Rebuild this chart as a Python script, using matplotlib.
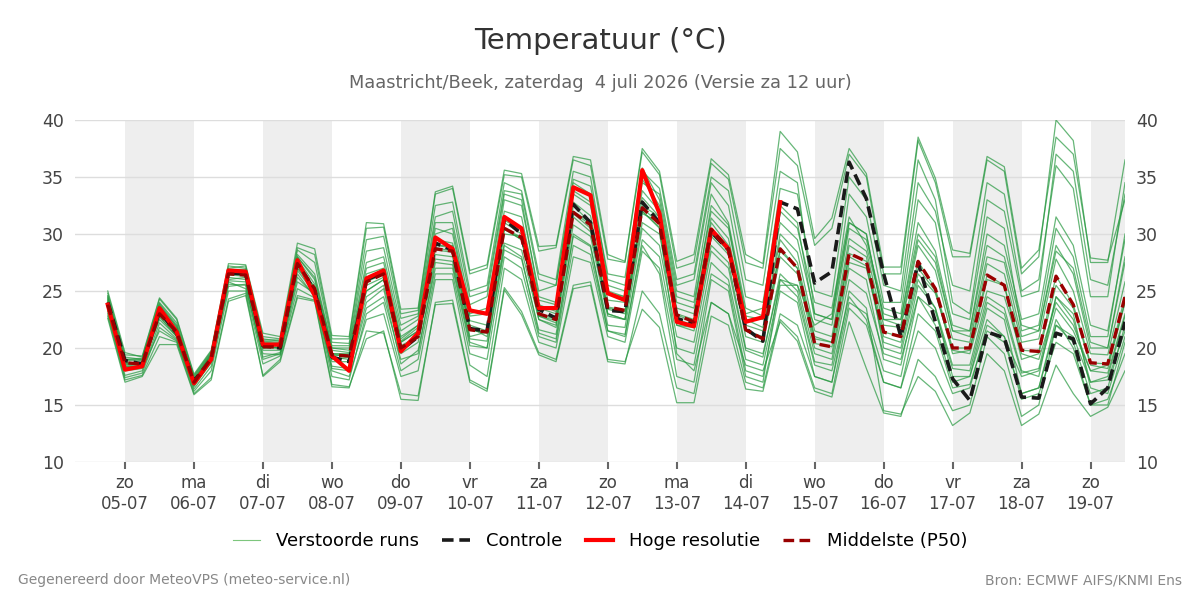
import pandas as pd
import numpy as np
import matplotlib
matplotlib.use("Agg")
import matplotlib.pyplot as plt
from matplotlib.lines import Line2D

# 6-hourly steps, 4 Jul 18 UTC .. 19 Jul 12 UTC
start = "2026-07-04 18:00"
n_steps = 60

controle = [24.0,
    18.9, 18.6, 23.2, 21.3,  17.1, 19.0, 26.6, 26.5,  20.2, 20.0, 27.5, 25.0,
    19.2, 18.8, 26.0, 26.6,  19.8, 21.0, 29.2, 28.6,  21.7, 21.5, 31.3, 30.0,
    23.4, 22.6, 32.6, 31.0,  23.3, 23.2, 32.8, 31.0,  22.6, 22.1, 30.2, 28.6,
    21.7, 20.6, 32.8, 32.2,  25.7, 26.7, 36.3, 33.1,  26.5, 21.0, 27.5, 22.3,
    17.3, 15.4, 21.4, 20.9,  15.7, 15.6, 21.3, 20.8,  15.1, 16.5, 22.3]

hoge_res = [23.8,
    18.1, 18.4, 23.5, 21.4,  16.9, 19.0, 26.8, 26.7,  20.3, 20.3, 27.7, 24.6,
    19.3, 18.0, 26.1, 26.8,  19.7, 21.3, 29.7, 28.7,  23.3, 23.0, 31.5, 30.5,
    23.5, 23.5, 34.1, 33.4,  24.8, 24.2, 35.6, 31.8,  22.3, 21.9, 30.4, 28.7,
    22.3, 22.7, 32.8]

p50 = [23.8,
    18.7, 18.6, 23.0, 21.4,  17.0, 19.1, 26.5, 26.4,  20.1, 20.1, 27.4, 25.2,
    19.4, 19.3, 25.8, 26.5,  20.0, 21.0, 28.7, 28.5,  21.6, 21.4, 30.5, 29.7,
    23.0, 22.5, 31.9, 30.8,  23.6, 23.3, 32.3, 30.9,  22.9, 22.3, 30.4, 28.7,
    21.6, 20.8, 28.7, 27.0,  20.4, 20.1, 28.3, 27.6,  21.4, 21.0, 27.6, 25.2,
    20.0, 20.0, 26.4, 25.5,  19.8, 19.7, 26.3, 23.8,  18.7, 18.6, 24.5]

members = [
    [24.0, 18.5, 18.8, 23.4, 21.6, 17.2, 19.3, 26.8, 26.6, 20.4, 20.3, 27.8, 25.6, 19.8, 19.6, 26.5, 27.0,
     20.6, 21.8, 29.5, 29.2, 22.4, 22.0, 31.2, 30.4, 23.8, 23.2, 32.8, 31.6, 24.2, 24.0, 33.2, 31.5,
     23.5, 23.0, 31.4, 29.6, 22.5, 21.8, 30.0, 28.4, 21.5, 21.0, 29.6, 28.5, 22.0, 21.8, 29.0, 26.8,
     20.8, 20.5, 27.4, 26.5, 20.5, 20.8, 27.8, 25.0, 19.5, 19.4, 25.8],
    [23.2, 17.6, 18.0, 22.2, 20.8, 16.4, 18.4, 25.4, 25.6, 19.2, 19.6, 26.2, 24.6, 18.4, 18.2, 24.0, 25.2,
     18.6, 19.8, 27.0, 27.0, 20.2, 20.0, 28.6, 27.8, 21.6, 21.2, 29.8, 28.9, 22.0, 21.8, 30.5, 29.0,
     21.0, 20.5, 28.5, 27.0, 19.8, 19.2, 26.5, 25.0, 18.8, 18.5, 26.0, 24.8, 19.5, 19.0, 24.5, 23.2,
     18.2, 18.0, 24.0, 23.0, 17.8, 18.2, 24.5, 22.5, 17.0, 17.5, 22.8],
    [24.6, 19.2, 19.0, 24.0, 22.2, 17.5, 19.6, 27.2, 27.0, 20.8, 20.6, 28.6, 27.5, 20.5, 20.4, 29.5, 29.8,
     22.6, 23.0, 32.5, 32.8, 25.0, 25.5, 34.5, 33.8, 26.5, 26.0, 35.5, 35.0, 26.0, 25.5, 35.8, 33.0,
     25.0, 24.5, 33.5, 31.0, 23.5, 22.8, 32.0, 30.5, 24.0, 23.5, 31.5, 29.0, 23.0, 22.5, 31.0, 28.5,
     22.0, 21.5, 30.0, 29.0, 22.5, 23.0, 31.5, 29.0, 22.0, 21.5, 29.5],
    [22.8, 17.2, 17.6, 21.0, 20.5, 16.0, 17.4, 24.3, 24.8, 17.6, 19.0, 24.6, 24.2, 16.8, 16.6, 20.8, 21.5,
     15.5, 15.4, 24.0, 24.2, 17.2, 16.4, 25.3, 23.2, 19.6, 19.0, 25.5, 25.8, 19.0, 18.8, 23.4, 21.8,
     15.2, 15.2, 22.8, 22.0, 16.4, 16.2, 22.5, 21.0, 16.5, 16.0, 23.5, 22.0, 17.0, 16.5, 23.0, 21.5,
     16.5, 16.8, 21.5, 20.5, 16.0, 16.5, 22.0, 21.0, 17.0, 17.2, 21.5],
    [23.8, 18.8, 18.6, 23.0, 21.2, 16.9, 19.0, 26.2, 26.0, 20.0, 20.0, 27.0, 25.0, 19.0, 19.2, 25.0, 26.0,
     20.5, 21.5, 30.0, 30.5, 23.0, 23.5, 33.0, 32.5, 25.0, 25.5, 34.5, 33.5, 25.5, 25.0, 34.8, 32.5,
     24.5, 24.0, 32.0, 30.5, 23.0, 23.5, 34.0, 33.5, 25.0, 24.5, 35.0, 33.0, 25.5, 25.0, 36.5, 33.0,
     24.0, 23.0, 33.0, 32.0, 24.5, 25.0, 37.0, 35.5, 26.0, 25.5, 33.5],
    [24.2, 18.2, 18.4, 23.8, 21.8, 17.0, 19.2, 26.5, 26.4, 20.2, 20.2, 27.5, 25.0, 19.5, 19.4, 25.5, 26.2,
     20.0, 21.2, 28.2, 28.0, 21.0, 21.4, 30.5, 29.5, 22.8, 22.2, 31.5, 30.2, 23.4, 23.0, 32.0, 30.5,
     22.5, 22.0, 30.0, 28.5, 21.0, 20.5, 28.0, 26.5, 20.0, 19.5, 27.5, 27.0, 21.0, 20.5, 27.0, 25.0,
     19.5, 19.8, 26.0, 25.5, 19.0, 19.5, 25.5, 23.5, 18.5, 18.2, 24.0],
    [23.6, 18.6, 18.7, 22.8, 21.0, 17.1, 19.5, 26.0, 26.2, 20.6, 20.5, 27.0, 25.4, 19.2, 19.0, 26.0, 26.8,
     20.8, 22.0, 29.0, 28.8, 21.8, 21.0, 30.0, 29.8, 22.5, 22.0, 32.5, 31.0, 23.0, 22.5, 31.8, 31.0,
     22.0, 21.5, 29.0, 27.5, 20.0, 19.5, 26.0, 24.5, 18.5, 18.0, 24.5, 22.5, 17.0, 16.5, 21.5, 20.0,
     16.0, 16.5, 22.0, 21.0, 15.5, 16.0, 20.5, 19.5, 15.0, 15.5, 19.5],
    [25.0, 19.6, 19.2, 24.3, 22.5, 17.6, 19.7, 27.0, 27.2, 21.0, 20.8, 28.8, 28.2, 20.8, 20.8, 30.5, 30.6,
     23.0, 23.3, 33.5, 34.0, 26.5, 27.0, 35.2, 35.0, 28.5, 28.8, 36.5, 36.0, 27.8, 27.5, 37.2, 35.2,
     27.0, 27.5, 36.2, 34.8, 27.5, 27.0, 37.5, 36.0, 29.0, 30.5, 37.0, 35.0, 26.5, 26.5, 38.2, 34.5,
     28.0, 28.0, 36.5, 35.5, 26.5, 28.0, 40.0, 38.2, 27.5, 27.5, 36.5],
    [23.4, 18.0, 18.2, 21.5, 20.6, 16.6, 18.8, 25.8, 25.2, 19.5, 19.4, 25.8, 24.8, 18.0, 17.5, 22.5, 23.0,
     17.5, 18.0, 26.0, 26.0, 18.5, 17.5, 27.0, 26.0, 20.5, 20.0, 28.0, 27.5, 21.0, 20.5, 28.5, 27.0,
     19.0, 18.5, 26.5, 25.5, 18.0, 17.5, 25.0, 24.0, 17.5, 17.0, 25.0, 23.5, 14.5, 14.2, 17.5, 16.2,
     13.2, 14.3, 19.5, 18.0, 13.2, 14.2, 18.5, 16.0, 14.0, 14.8, 18.0],
    [24.4, 18.9, 19.0, 23.6, 21.4, 17.3, 19.4, 26.6, 26.8, 20.5, 20.4, 28.0, 26.0, 20.0, 20.0, 27.5, 28.0,
     21.5, 22.5, 31.0, 31.0, 23.8, 24.5, 33.5, 33.0, 24.5, 24.0, 33.8, 32.8, 24.8, 24.5, 34.5, 33.5,
     25.5, 26.0, 34.5, 32.5, 24.5, 24.0, 32.5, 31.0, 22.5, 22.0, 30.5, 29.5, 23.5, 23.0, 33.0, 31.0,
     23.0, 22.5, 31.5, 30.5, 21.5, 22.0, 30.5, 28.0, 21.0, 21.0, 30.0],
    [23.5, 18.3, 18.5, 22.5, 21.0, 16.8, 18.9, 25.9, 25.8, 19.8, 19.8, 26.8, 24.8, 18.8, 18.8, 24.5, 25.5,
     19.5, 20.5, 27.8, 27.6, 20.8, 20.6, 29.2, 28.6, 22.5, 21.8, 30.8, 29.8, 22.8, 22.5, 31.0, 30.0,
     22.0, 21.8, 29.8, 28.2, 21.5, 21.0, 28.5, 27.0, 20.8, 20.5, 28.0, 27.2, 20.5, 20.0, 26.5, 24.8,
     19.8, 19.5, 25.0, 24.5, 19.5, 19.0, 24.0, 22.0, 18.0, 17.8, 23.0],
    [24.8, 19.4, 19.3, 24.4, 22.6, 17.7, 19.8, 27.4, 27.3, 21.3, 21.0, 29.2, 28.7, 21.1, 21.0, 31.0, 30.9,
     23.4, 23.5, 33.7, 34.2, 26.8, 27.3, 35.6, 35.3, 28.9, 29.0, 36.8, 36.5, 28.2, 27.6, 37.5, 35.5,
     27.6, 28.2, 36.6, 35.2, 28.2, 27.4, 39.0, 37.2, 29.6, 31.4, 37.5, 35.3, 27.1, 27.1, 38.5, 34.9,
     28.6, 28.3, 36.8, 35.9, 27.0, 28.6, 38.5, 37.0, 27.9, 27.7, 33.0],
    [22.6, 17.0, 17.5, 20.3, 20.3, 15.9, 17.2, 24.1, 24.6, 17.5, 18.8, 24.4, 24.1, 16.6, 16.5, 21.5, 21.3,
     16.0, 15.8, 23.8, 23.9, 17.0, 16.2, 25.1, 22.9, 19.4, 18.8, 25.2, 25.5, 18.8, 18.6, 25.0, 23.0,
     16.5, 16.0, 24.0, 23.0, 17.0, 16.5, 23.0, 22.0, 17.5, 17.0, 24.0, 23.0, 18.0, 17.5, 24.5, 22.0,
     17.0, 17.5, 22.5, 21.0, 17.5, 18.0, 23.5, 21.5, 18.0, 18.5, 24.0],
    [23.9, 18.7, 18.6, 23.2, 21.5, 17.0, 19.1, 26.4, 26.3, 20.1, 20.0, 27.3, 25.3, 19.4, 19.3, 25.0, 26.0,
     20.2, 21.0, 28.6, 28.4, 21.6, 21.3, 30.4, 29.5, 22.8, 22.4, 31.8, 30.5, 23.5, 23.2, 32.0, 30.6,
     19.5, 18.0, 24.0, 23.0, 18.5, 18.0, 22.3, 20.6, 16.2, 15.7, 22.3, 18.2, 14.3, 14.0, 19.0, 17.5,
     14.5, 15.0, 21.0, 19.5, 14.0, 15.0, 22.0, 20.5, 16.0, 16.5, 22.0],
    [24.1, 18.4, 18.6, 23.1, 21.4, 17.0, 19.0, 26.5, 26.5, 20.0, 20.1, 27.4, 25.2, 19.4, 19.3, 25.8, 26.5,
     20.0, 21.0, 28.8, 28.5, 21.6, 21.4, 30.5, 29.7, 23.0, 22.5, 31.9, 30.8, 23.6, 23.3, 32.3, 30.9,
     22.9, 22.3, 30.4, 28.7, 21.6, 20.8, 28.7, 27.0, 20.4, 20.1, 28.3, 27.6, 21.4, 21.0, 27.6, 25.2,
     20.0, 20.0, 26.4, 25.5, 19.8, 19.7, 26.3, 23.8, 18.7, 18.6, 24.5],
    [24.3, 19.0, 19.1, 23.9, 22.0, 17.4, 19.5, 26.9, 26.9, 20.7, 20.7, 28.2, 26.5, 20.2, 20.2, 28.5, 28.8,
     22.0, 22.8, 31.5, 32.0, 24.5, 25.0, 33.8, 33.5, 26.0, 25.5, 34.8, 34.2, 26.5, 26.2, 35.5, 34.0,
     26.0, 26.5, 35.0, 33.8, 26.0, 25.5, 35.5, 34.5, 23.0, 22.5, 33.5, 31.5, 24.0, 24.0, 34.5, 32.0,
     25.5, 25.0, 34.5, 33.5, 25.0, 26.0, 36.0, 34.0, 24.5, 24.5, 34.5],
    [23.0, 17.4, 17.8, 21.8, 20.7, 16.2, 18.0, 25.0, 25.0, 18.6, 19.3, 25.2, 24.4, 17.5, 17.2, 23.0, 24.0,
     18.0, 19.0, 26.5, 26.5, 19.5, 19.0, 28.0, 27.0, 21.0, 20.5, 29.0, 28.2, 21.5, 21.0, 29.5, 28.0,
     20.0, 19.5, 27.5, 26.0, 19.0, 18.5, 25.5, 25.5, 22.0, 23.0, 31.0, 30.0, 22.5, 22.5, 30.0, 28.0,
     21.5, 21.0, 28.0, 27.5, 21.0, 21.5, 28.5, 27.0, 20.5, 20.0, 27.5],
    [23.7, 18.4, 18.3, 22.7, 21.1, 16.7, 18.7, 25.6, 25.5, 19.0, 19.5, 26.5, 24.5, 18.2, 18.0, 23.5, 24.5,
     19.0, 19.5, 27.5, 27.3, 20.5, 20.0, 29.0, 28.0, 21.3, 20.8, 30.0, 29.0, 21.5, 21.2, 29.0, 26.5,
     17.5, 17.0, 26.0, 25.0, 17.5, 17.0, 26.0, 25.5, 19.5, 19.0, 27.0, 26.0, 19.0, 18.5, 25.5, 23.5,
     18.5, 18.5, 24.5, 23.5, 18.0, 17.5, 24.5, 23.0, 16.5, 16.0, 21.0],
    [24.5, 19.0, 18.9, 23.7, 21.9, 17.2, 19.3, 26.7, 26.7, 20.3, 20.4, 28.0, 26.2, 20.0, 19.8, 27.0, 27.5,
     21.0, 22.0, 30.5, 30.0, 22.8, 23.0, 32.0, 31.5, 24.2, 23.8, 33.5, 32.5, 25.0, 24.5, 33.8, 32.0,
     24.0, 23.5, 32.5, 30.8, 22.8, 22.5, 31.0, 29.5, 23.0, 22.5, 31.0, 30.0, 22.5, 22.0, 29.5, 27.5,
     21.5, 21.5, 29.0, 28.0, 22.0, 21.5, 29.0, 26.5, 20.0, 20.0, 28.0],
    [23.9, 18.6, 18.7, 23.3, 21.7, 17.1, 19.2, 26.6, 26.4, 20.2, 20.0, 27.6, 25.2, 19.5, 19.5, 26.2, 26.8,
     20.5, 21.5, 29.0, 29.0, 22.0, 21.5, 31.0, 30.0, 23.5, 23.0, 32.0, 31.0, 23.0, 22.5, 32.5, 31.5,
     23.0, 22.5, 31.0, 29.0, 22.0, 21.5, 29.5, 27.5, 21.0, 20.5, 29.0, 28.0, 20.0, 19.5, 26.0, 23.5,
     17.5, 17.5, 23.5, 22.5, 16.0, 16.5, 22.5, 20.0, 15.0, 15.0, 20.5],
]

dag_namen = ["ma", "di", "wo", "do", "vr", "za", "zo"]

for i, m in enumerate(members):
    assert len(m) == n_steps, f"member {i}: {len(m)}"
assert len(controle) == n_steps and len(p50) == n_steps, (len(controle), len(p50))

tijd = pd.date_range(start, periods=n_steps, freq="6h")
dagen = pd.date_range("2026-07-05", "2026-07-19", freq="D")

fig = plt.figure(figsize=(12, 6), dpi=100)
ax = fig.add_axes([0.0625, 0.23, 0.875, 0.57])

# grey bands on alternate days
for d in dagen[::2]:
    ax.axvspan(d, d + pd.Timedelta(days=1), color="#eeeeee", lw=0, zorder=0)

for m in members:
    ax.plot(tijd, m, color="#26983f", lw=0.9, alpha=0.7, zorder=2)

ax.plot(tijd, controle, color="#1a1a1a", lw=2.6, ls=(0, (3.2, 1.6)), zorder=3)
ax.plot(tijd[:len(hoge_res)], hoge_res, color="#ff0000", lw=3, zorder=4)
ax.plot(tijd, p50, color="#990000", lw=2.4, ls=(0, (3.2, 1.6)), zorder=5)

ax.set_ylim(10, 40)
ax.set_yticks(range(10, 41, 5))
ax.set_xlim(pd.Timestamp("2026-07-04 06:36"), pd.Timestamp("2026-07-19 12:00"))
ax.set_xticks(dagen)
ax.set_xticklabels([f"{dag_namen[d.weekday()]}\n{d.strftime('%d-%m')}" for d in dagen])
ax.grid(axis="y", color="#dddddd", lw=1, zorder=1)
ax.set_axisbelow(True)
for s in ax.spines.values():
    s.set_visible(False)
ax.tick_params(axis="x", length=5, width=1.5, color="#666666", labelsize=12, labelcolor="#444444", pad=4)
ax.tick_params(axis="y", length=0, labelsize=12.5, labelcolor="#444444", pad=8,
               labelleft=True, labelright=True)

fig.text(0.5, 0.932, "Temperatuur (°C)", ha="center", va="center", fontsize=21, color="#333333")
fig.text(0.5, 0.861, "Maastricht/Beek, zaterdag  4 juli 2026 (Versie za 12 uur)",
         ha="center", va="center", fontsize=12.8, color="#666666")

handles = [
    Line2D([], [], color="#5cb85c", lw=0.8, alpha=0.8),
    Line2D([], [], color="#1a1a1a", lw=2.6, ls=(0, (3.2, 1.6))),
    Line2D([], [], color="#ff0000", lw=3),
    Line2D([], [], color="#990000", lw=2.4, ls=(0, (3.2, 1.6))),
]
fig.legend(handles, ["Verstoorde runs", "Controle", "Hoge resolutie", "Middelste (P50)"],
           loc="center", bbox_to_anchor=(0.5, 0.098), ncol=4, frameon=False,
           fontsize=13, handlelength=1.5, handletextpad=0.9, columnspacing=1.3)

fig.text(0.015, 0.033, "Gegenereerd door MeteoVPS (meteo-service.nl)", ha="left", va="center",
         fontsize=10, color="#888888")
fig.text(0.985, 0.033, "Bron: ECMWF AIFS/KNMI Ens", ha="right", va="center",
         fontsize=10, color="#888888")

fig.savefig("out.png", dpi=100)
